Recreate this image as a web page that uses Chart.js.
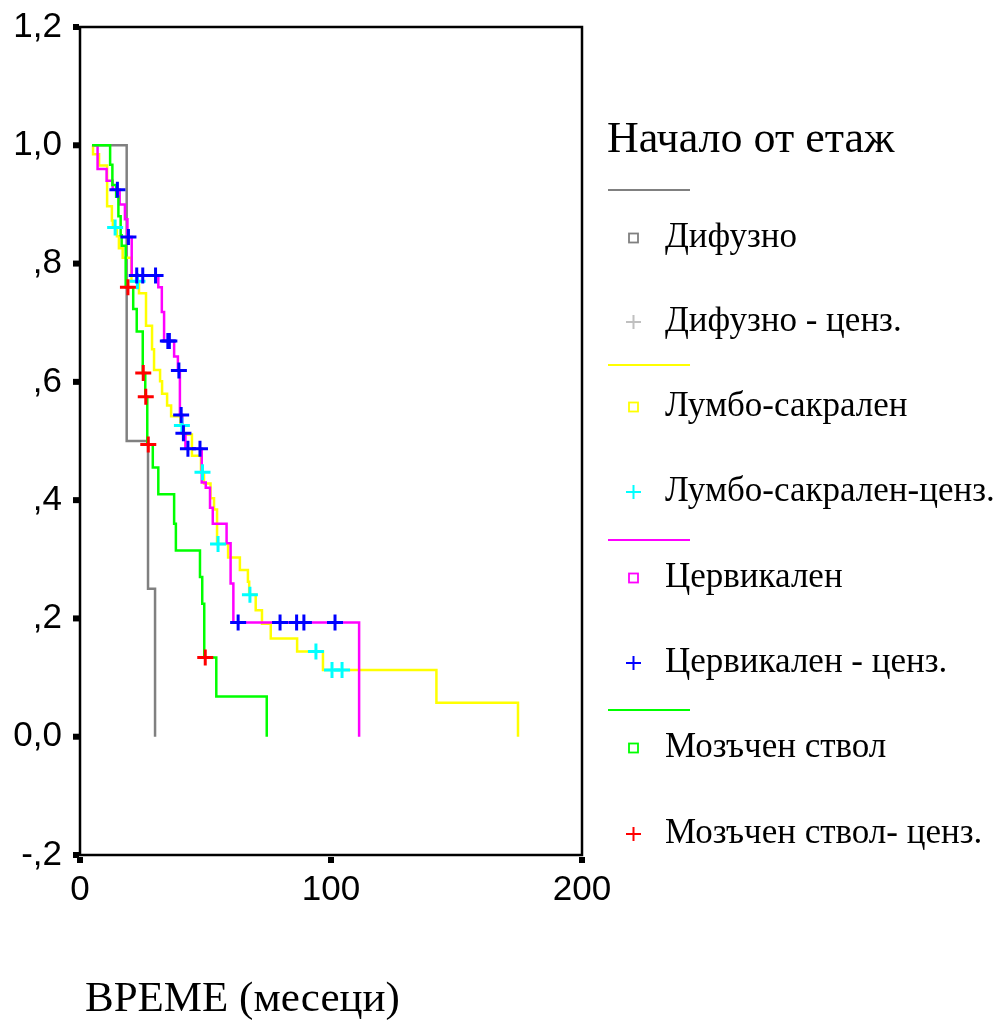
<!DOCTYPE html>
<html>
<head>
<meta charset="utf-8">
<script src="https://cdn.jsdelivr.net/npm/chart.js@4/dist/chart.umd.min.js"></script>
<style>
  body { margin: 0; background: #fff; }
  #wrap { width: 1008px; height: 1023px; position: relative; }
</style>
</head>
<body>
<div id="wrap"><canvas id="kmChart"></canvas></div>
<script>
// survival curves: time of each step (months) and the survival value after it
const diffTimes = [4.8, 18.6, 27.1, 29.9];
const diffSurv  = [1.0, 0.5, 0.25, 0.0];

const lumbTimes = [4.8, 5.2, 7.6, 10.8, 12.7, 13.1, 14.7, 15.5, 17, 20.5, 23.5, 26.3, 28.7, 29.5, 31.9, 32.7, 34.7, 36.3, 40, 41.4, 44.6, 48.2, 49.4, 52, 53.4, 54.6, 59, 63.7, 66.9, 67.4, 70, 72.5, 76, 86.5, 96.8, 142, 174.5];
const lumbSurv  = [1.0, 0.985, 0.966, 0.897, 0.873, 0.861, 0.846, 0.826, 0.81, 0.77, 0.75, 0.695, 0.655, 0.62, 0.601, 0.58, 0.56, 0.542, 0.526, 0.511, 0.475, 0.447, 0.428, 0.403, 0.384, 0.326, 0.303, 0.282, 0.262, 0.24, 0.214, 0.191, 0.166, 0.144, 0.113, 0.0575, 0.0];
const lumbCens  = [14, 22.9, 40.6, 48.8, 55, 67.7, 94, 100.4, 104.4];

const cervTimes = [4.8, 7, 10.6, 13, 15.8, 17.9, 18.9, 20.6, 31.2, 32.6, 33.5, 37.5, 39, 39.8, 40.8, 42, 48.5, 50.1, 51.8, 52.9, 58.4, 60, 61.1, 111.2];
const cervSurv  = [1.0, 0.96, 0.94, 0.925, 0.9, 0.875, 0.845, 0.78, 0.76, 0.718, 0.669, 0.643, 0.619, 0.544, 0.513, 0.487, 0.43, 0.421, 0.387, 0.36, 0.327, 0.259, 0.193, 0.0];
const cervCens  = [14.9, 19.3, 22.6, 25.0, 30.1, 35.0, 35.6, 39.4, 40.3, 41.2, 43, 47.8, 63, 79.7, 86.3, 89.2, 101.6];

const brainTimes = [4.8, 12, 12.9, 14.4, 15.3, 16.2, 16.6, 18.2, 21.2, 22.6, 25, 26, 26.8, 29, 31.2, 37.5, 38.2, 47.8, 48.7, 49.5, 54.3, 74.4];
const brainSurv  = [1.0, 0.967, 0.933, 0.913, 0.88, 0.848, 0.83, 0.76, 0.723, 0.685, 0.615, 0.575, 0.494, 0.455, 0.41, 0.36, 0.315, 0.27, 0.225, 0.134, 0.068, 0.0];
const brainCens  = [19.1, 25.2, 26.2, 27.2, 49.9];

const yTickLabels = ["-,2", "0,0", ",2", ",4", ",6", ",8", "1,0", "1,2"];
const legendTitle = "Начало от етаж";
const legendItems = ["Дифузно", "Дифузно - ценз.", "Лумбо-сакрален", "Лумбо-сакрален-ценз.", "Цервикален", "Цервикален - ценз.", "Мозъчен ствол", "Мозъчен ствол- ценз."];
const xTitle = "ВРЕМЕ (месеци)";

function toPoints(times, surv) {
  return times.map((t, i) => ({ x: t, y: surv[i] }));
}

// censored marks sit on the curve at their time
function censPoints(cens, times, surv) {
  return cens.map((t) => {
    let v = surv[0];
    for (let i = 0; i < times.length; i++) if (times[i] <= t) v = surv[i];
    return { x: t, y: v };
  });
}

function curve(label, times, surv, color, order) {
  return {
    label, data: toPoints(times, surv), borderColor: color, borderWidth: 2.5,
    stepped: "before", pointRadius: 0, fill: false, order,
  };
}

function marks(label, cens, times, surv, color) {
  return {
    label, data: censPoints(cens, times, surv), showLine: false,
    pointStyle: "cross", pointRadius: 8, pointBorderWidth: 3,
    pointBorderColor: color, borderColor: color, order: 0,
  };
}

const serif = '"Liberation Serif", "Times New Roman", serif';
const sans = '"Liberation Sans", Arial, sans-serif';

const frameAndLegend = {
  id: "frameAndLegend",
  afterDraw(chart) {
    const ctx = chart.ctx;
    const a = chart.chartArea;
    const xs = chart.scales.x, ys = chart.scales.y;
    ctx.save();
    ctx.strokeStyle = "#000";
    ctx.lineWidth = 2.5;
    ctx.strokeRect(a.left, a.top, a.right - a.left, a.bottom - a.top);

    // square tick marks
    ctx.fillStyle = "#000";
    ys.ticks.forEach((t) => {
      const y = ys.getPixelForValue(t.value);
      ctx.fillRect(a.left - 7, y - 3, 6, 6);
    });
    xs.ticks.forEach((t) => {
      const x = xs.getPixelForValue(t.value);
      ctx.fillRect(x - 3, a.bottom + 2, 6, 6);
    });

    // axis title
    ctx.font = "43px " + serif;
    ctx.textBaseline = "middle";
    ctx.textAlign = "left";
    ctx.fillText(xTitle, 85, 1000);

    // legend
    ctx.font = "44px " + serif;
    ctx.fillText(legendTitle, 607, 140);
    const lineColors = ["#808080", "#FFFF00", "#FF00FF", "#00FF00"];
    const markColors = ["#808080", "#C0C0C0", "#FFFF00", "#00FFFF", "#FF00FF", "#0000FF", "#00FF00", "#FF0000"];
    const sepY = [190, 365, 540, 710];
    const itemY = [238, 322, 407, 492, 578, 663, 748, 834];
    sepY.forEach((y, i) => {
      ctx.strokeStyle = lineColors[i];
      ctx.lineWidth = 2;
      ctx.beginPath();
      ctx.moveTo(608, y);
      ctx.lineTo(690, y);
      ctx.stroke();
    });
    ctx.font = "35px " + serif;
    legendItems.forEach((txt, i) => {
      const y = itemY[i];
      ctx.strokeStyle = markColors[i];
      if (i % 2 === 0) {
        ctx.lineWidth = 1.8;
        ctx.strokeRect(629, y - 4.5, 9, 9);
      } else {
        ctx.lineWidth = 2;
        ctx.beginPath();
        ctx.moveTo(626, y); ctx.lineTo(641, y);
        ctx.moveTo(633.5, y - 7); ctx.lineTo(633.5, y + 7);
        ctx.stroke();
      }
      ctx.fillStyle = "#000";
      ctx.fillText(txt, 665, y);
    });
    ctx.restore();
  },
};

new Chart(document.getElementById("kmChart"), {
  type: "line",
  data: {
    datasets: [
      marks("Мозъчен ствол- ценз.", brainCens, brainTimes, brainSurv, "#FF0000"),
      marks("Цервикален - ценз.", cervCens, cervTimes, cervSurv, "#0000FF"),
      marks("Лумбо-сакрален-ценз.", lumbCens, lumbTimes, lumbSurv, "#00FFFF"),
      curve("Мозъчен ствол", brainTimes, brainSurv, "#00FF00", 1),
      curve("Цервикален", cervTimes, cervSurv, "#FF00FF", 2),
      curve("Лумбо-сакрален", lumbTimes, lumbSurv, "#FFFF00", 3),
      curve("Дифузно", diffTimes, diffSurv, "#808080", 4),
    ],
  },
  options: {
    responsive: true,
    maintainAspectRatio: false,
    animation: false,
    layout: { padding: { top: 27, right: 426, left: 0, bottom: 0 } },
    plugins: { legend: { display: false }, tooltip: { enabled: false } },
    scales: {
      x: {
        type: "linear", min: 0, max: 200,
        grid: { display: false, drawTicks: false },
        border: { display: false },
        ticks: { stepSize: 100, color: "#000", padding: 14, font: { family: sans, size: 35 }, maxRotation: 0 },
        afterFit: (s) => { s.height = 168; s.paddingLeft = 0; s.paddingRight = 0; },
      },
      y: {
        min: -0.2, max: 1.2,
        grid: { display: false, drawTicks: false },
        border: { display: false },
        ticks: {
          stepSize: 0.2, color: "#000", padding: 18, font: { family: sans, size: 35 },
          callback: (v, i) => yTickLabels[i],
        },
        afterFit: (s) => { s.width = 80; s.paddingTop = 0; s.paddingBottom = 0; },
      },
    },
  },
  plugins: [frameAndLegend],
});
</script>
</body>
</html>
